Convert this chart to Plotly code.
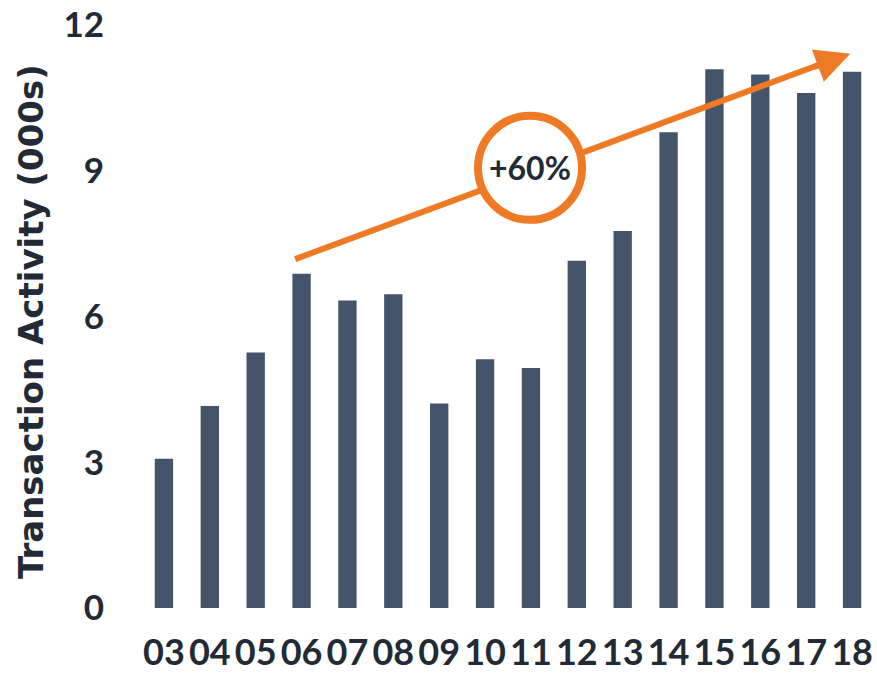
import plotly.graph_objects as go

# Transaction activity by year (thousands)
years = ["03", "04", "05", "06", "07", "08", "09", "10",
         "11", "12", "13", "14", "15", "16", "17", "18"]
activity = [3.07, 4.16, 5.26, 6.88, 6.33, 6.46, 4.21, 5.12,
            4.94, 7.15, 7.76, 9.79, 11.09, 10.98, 10.60, 11.04]
y_ticks = [0, 3, 6, 9, 12]
growth_label = "+60%"

BAR = "#44546A"
INK = "#222A35"
ORANGE = "#EE7A26"
FONT = "Lato"
TITLE_FONT = "DejaVu Sans"

x_pos = list(range(len(years)))

fig = go.Figure(
    go.Bar(
        x=x_pos,
        y=activity,
        marker=dict(color=BAR, line=dict(width=0)),
        width=0.4,
        hoverinfo="skip",
    )
)

# Trend arrow: shaft below the badge, head as an annotation
start_x, start_y = 2.86, 7.18
shaft_x, shaft_y = 14.65, 11.31
tip_x, tip_y = 14.96, 11.41
badge_x, badge_y = 7.98, 9.06

fig.add_shape(
    type="line", xref="x", yref="y",
    x0=start_x, y0=start_y, x1=shaft_x, y1=shaft_y,
    line=dict(color=ORANGE, width=6),
)
fig.add_shape(
    type="circle", xref="x", yref="y",
    xsizemode="pixel", ysizemode="pixel",
    xanchor=badge_x, yanchor=badge_y,
    x0=-52, x1=52, y0=-52, y1=52,
    fillcolor="white",
    line=dict(color=ORANGE, width=8),
)
fig.add_annotation(
    x=tip_x, y=tip_y, xref="x", yref="y",
    ax=-37.5, ay=13.9, text="",
    showarrow=True, arrowhead=2, arrowsize=1.15,
    arrowwidth=6, arrowcolor=ORANGE, standoff=0,
)
fig.add_annotation(
    x=badge_x, y=badge_y, xref="x", yref="y",
    text=growth_label, showarrow=False,
    font=dict(family=FONT, size=32, color=INK, weight="bold"),
)

# Vertical axis title
fig.add_annotation(
    x=(31 - 141) / 734, y=(608 - 322) / 583,
    xref="paper", yref="paper",
    text="Transaction Activity (000s)", textangle=-90,
    showarrow=False, xanchor="center", yanchor="middle",
    font=dict(family=TITLE_FONT, size=34, color=INK, weight="bold"),
)

fig.update_layout(
    width=877, height=674,
    margin=dict(l=141, r=2, t=25, b=66, autoexpand=False),
    paper_bgcolor="white",
    plot_bgcolor="white",
    showlegend=False,
    bargap=0.6,
)
fig.update_xaxes(
    range=[-0.5, len(years) - 0.5],
    tickmode="array", tickvals=x_pos, ticktext=years,
    showgrid=False, zeroline=False, showline=False, ticks="",
    tickfont=dict(family=FONT, size=36, color=INK, weight="bold"),
    ticklabelstandoff=20, automargin=False,
)
fig.update_yaxes(
    range=[0, 12],
    tickmode="array", tickvals=y_ticks,
    ticktext=[str(v) for v in y_ticks],
    showgrid=False, zeroline=False, showline=False, ticks="",
    tickfont=dict(family=FONT, size=35, color=INK, weight="bold"),
    ticklabelstandoff=36, automargin=False,
)

fig.write_html("out.html")
